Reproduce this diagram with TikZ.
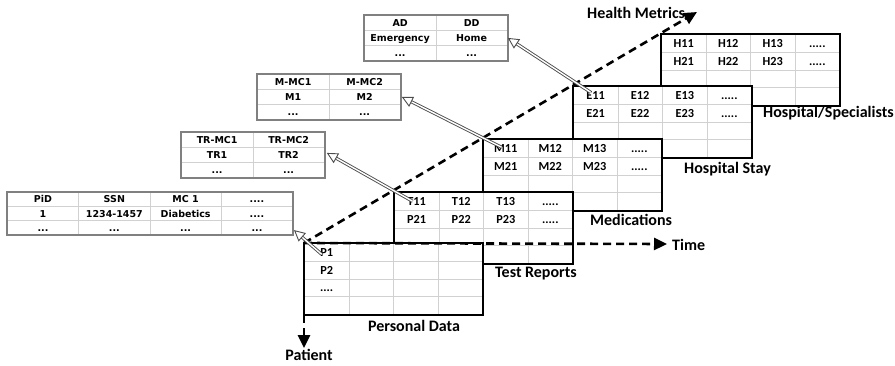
\documentclass[tikz,border=0pt]{standalone}
\usepackage{fontspec}
\setmainfont{Carlito}
\newfontfamily\vfont{DejaVu Sans}
\usetikzlibrary{matrix,arrows.meta,calc}
\tikzset{
  mtab/.style={matrix of nodes, nodes in empty cells, inner sep=0pt, outer sep=0pt,
    fill=white, anchor=north west, column sep=-0.8pt, row sep=-0.8pt,
    nodes={draw=black!18, line width=0.8pt, minimum width=44.55pt, minimum height=17.8pt,
      inner sep=0pt, outer sep=0pt, text height=7.8pt, text depth=0pt,
      font=\fontsize{12.3}{13}\selectfont\bfseries}},
  mborder/.style={draw=black, line width=2.6pt},
  stab/.style={matrix of nodes, nodes in empty cells, inner sep=0pt, outer sep=0pt,
    fill=white, anchor=north west, column sep=-0.8pt, row sep=-0.8pt,
    nodes={draw=black!18, line width=0.8pt, minimum width=71.5pt, minimum height=15pt,
      inner sep=0pt, outer sep=0pt, text height=6.9pt, text depth=0pt,
      font=\vfont\fontsize{9.5}{10}\selectfont\bfseries}},
  sborder/.style={draw=black!50, line width=1.6pt},
  axis/.style={line width=2.6pt, dash pattern=on 8pt off 5pt,
    -{Triangle[length=13pt,width=12pt]}},
  hollow/.style={draw=black!70, double=white, double distance=1.4pt, line width=0.9pt,
    -{Triangle[open,length=11pt,width=11pt,fill=white]}},
  lbl/.style={font=\fontsize{16}{17}\selectfont\bfseries, inner sep=0pt},
}
\begin{document}
\begin{tikzpicture}[x=1pt,y=-1pt]
\useasboundingbox (0,0) rectangle (895,365);

% side tables
\matrix (pid) [stab, nodes={minimum width=71.3pt, minimum height=14.1pt}] at (7,192) {
  PiD & SSN & MC 1 & ....\\
  1 & 1234-1457 & Diabetics & ....\\
  ... & ... & ... & ...\\};
\draw[sborder] (pid.north west) rectangle (pid.south east);

\matrix (trs) [stab] at (181,132) {
  TR-MC1 & TR-MC2\\
  TR1 & TR2\\
  ... & ...\\};
\draw[sborder] (trs.north west) rectangle (trs.south east);

\matrix (ms) [stab] at (257,74) {
  M-MC1 & M-MC2\\
  M1 & M2\\
  ... & ...\\};
\draw[sborder] (ms.north west) rectangle (ms.south east);

\matrix (ads) [stab] at (364,15) {
  AD & DD\\
  Emergency & Home\\
  ... & ...\\};
\draw[sborder] (ads.north west) rectangle (ads.south east);

% main tables, back to front
\matrix (hp) [mtab] at (661,34) {
  H11 & H12 & H13 & .....\\
  H21 & H22 & H23 & .....\\
  & & & \\
  & & & \\};
\draw[mborder] (hp.north west) rectangle (hp.south east);

\matrix (hs) [mtab] at (573,86) {
  E11 & E12 & E13 & .....\\
  E21 & E22 & E23 & .....\\
  & & & \\
  & & & \\};
\draw[mborder] (hs.north west) rectangle (hs.south east);

\matrix (me) [mtab] at (483,139) {
  M11 & M12 & M13 & .....\\
  M21 & M22 & M23 & .....\\
  & & & \\
  & & & \\};
\draw[mborder] (me.north west) rectangle (me.south east);

\matrix (tr) [mtab] at (394,192) {
  T11 & T12 & T13 & .....\\
  P21 & P22 & P23 & .....\\
  & & & \\
  & & & \\};
\draw[mborder] (tr.north west) rectangle (tr.south east);

\matrix (pd) [mtab] at (304,243) {
  P1 & & & \\
  P2 & & & \\
  .... & & & \\
  & & & \\};
\draw[mborder] (pd.north west) rectangle (pd.south east);

% axes
\coordinate (timetip) at (667,244);
\coordinate (pattip) at (304,348);
\coordinate (hmtip) at (697,12);
\draw[axis] (pd.north west) -- (timetip);
\draw[axis] (pd.south west) -- (pattip);
\draw[axis] (pd.north west) -- (hmtip);

% hollow arrows
\draw[hollow] ([xshift=-5pt,yshift=-2pt]pd-1-1.center) -- ([xshift=1pt,yshift=5pt]pid.south east);
\draw[hollow] ([xshift=-4pt]tr-1-1.center) -- ([xshift=2pt,yshift=2pt]trs.east);
\draw[hollow] ([xshift=-4pt,yshift=1pt]me-1-1.center) -- ([xshift=1pt]ms.east);
\draw[hollow] ([xshift=-5pt,yshift=3pt]hs-1-1.center) -- ([xshift=0pt]ads.east);

% labels
\node[lbl] (lpd) at (414,326) {Personal Data};
\node[lbl, anchor=west] (ltr) at (495,274) {Test Reports};
\node[lbl, anchor=west] (lme) at (590,220) {Medications};
\node[lbl, anchor=west] (lhs) at (684,169) {Hospital Stay};
\node[lbl, anchor=west] (lhp) at (763,113) {Hospital/Specialists};
\node[lbl, anchor=west] (ltime) at (672,245) {Time};
\node[lbl] (lpat) at (309,355) {Patient};
\node[lbl, anchor=west] (lhm) at (587,13) {Health Metrics};
\end{tikzpicture}
\end{document}
